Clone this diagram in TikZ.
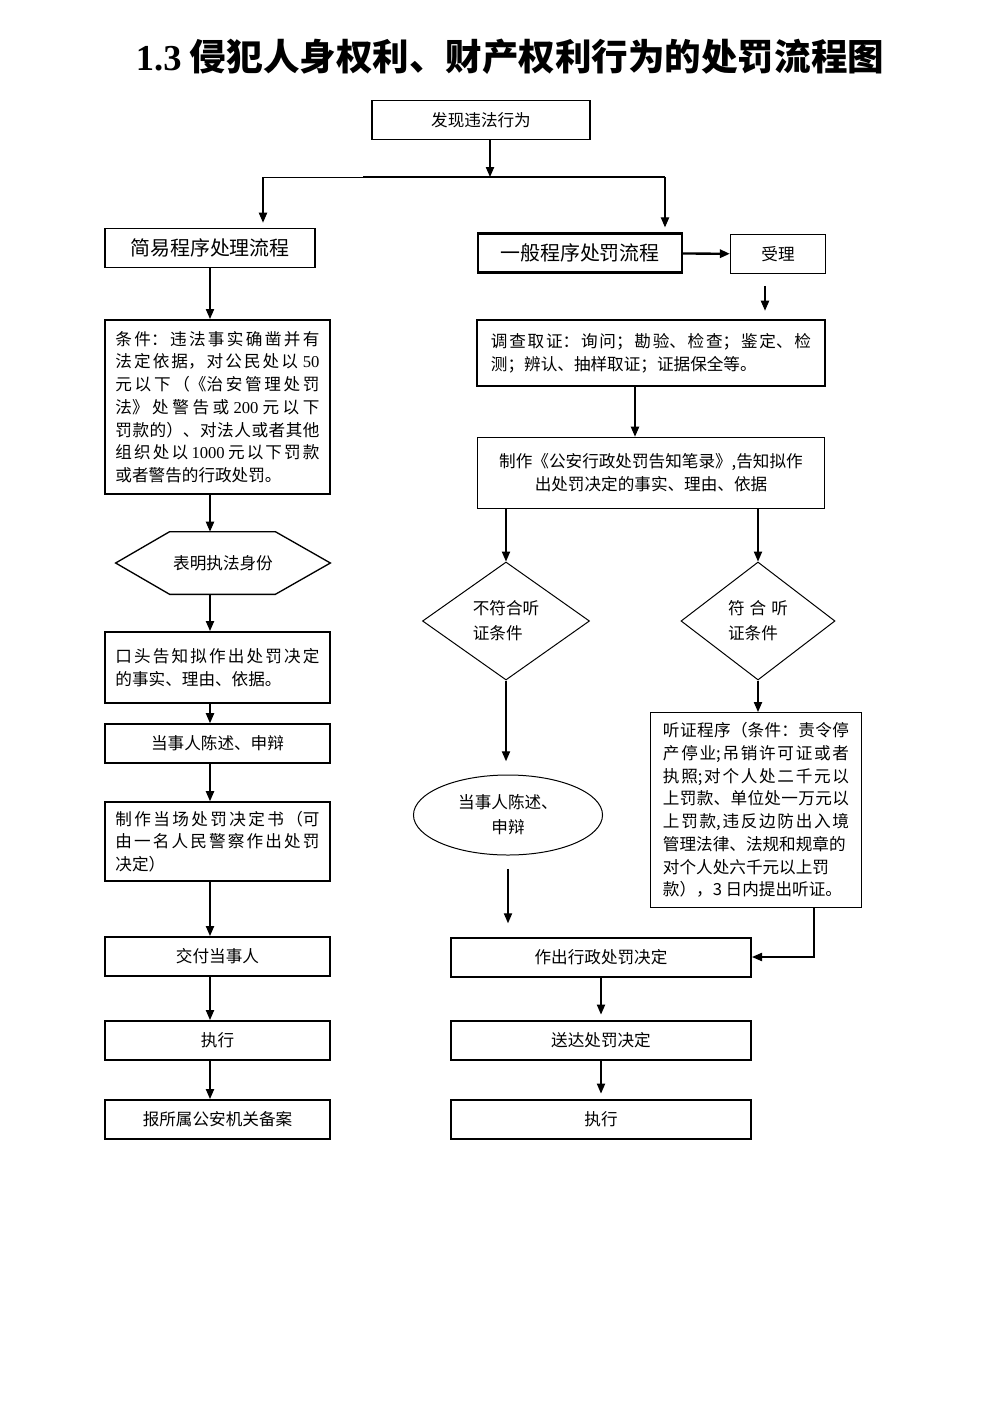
\documentclass[tikz,border=0pt]{standalone}
\usepackage{fontspec}
\setmainfont{Noto Sans CJK SC}
\newfontfamily\tnr{Liberation Serif}
\usepackage{tikz}
\usetikzlibrary{positioning, arrows.meta, shapes.geometric}
\XeTeXlinebreaklocale "zh"
\XeTeXlinebreakskip=0pt plus 4pt
\newcommand{\pxu}{0.6023pt}

\begin{document}
\begin{tikzpicture}[x=0.02117cm, y=-0.02117cm,
    box/.style 2 args={draw, line width=1pt, minimum width=#1*\pxu, minimum height=#2*\pxu, inner sep=0pt, font=\fontsize{10}{13.7}\selectfont},
    para/.style={text width=#1*\pxu, align=justify},
    arr/.style={-{Triangle[length=6pt,width=5pt]}, line width=0.7pt}]
            \useasboundingbox (0,0) rectangle (992,1403);
            \node (title) at (510,57) {\fontsize{22}{26}\selectfont\bfseries{\tnr 1.3} 侵犯人身权利、财产权利行为的处罚流程图};
            % top
            \node [box={218}{39}, line width=0.8pt] (find) at (481,120) {发现违法行为};
            \coordinate (split) at (490,177);
            \coordinate (bl) at (263,177);
            \coordinate (bm) at (363,177);
            \coordinate (br) at (665,177);
            \node [box={210}{39}, font=\fontsize{12}{14}\selectfont] (simple) at (210,248) {简易程序处理流程};
            \node [box={204}{39}, line width=1.4pt, font=\fontsize{12}{14}\selectfont] (general) at (580,253) {一般程序处罚流程};
            \node [box={95}{39}, line width=0.8pt] (accept) at (778,254) {受理};
            \draw[arr] (find.south -| split) -- (split);
            \draw[line width=0.6pt] (bl) -- (bm);
            \draw[line width=1pt] (bm) -- (br);
            \draw[arr, shorten >=3pt] (bl) -- (bl |- simple.north);
            \draw[arr, shorten >=3pt] (br) -- (br |- general.north);
            \draw[arr, line width=1.4pt] (general) -- (accept);
            % general procedure
            \node [box={347}{66}, line width=1.2pt, para=320] (invest) at (651,353) {调查取证：询问；勘验、检查；鉴定、检测；辨认、抽样取证；证据保全等。};
            \node [box={347}{71}, align=center] (notify) at (651,473) {制作《公安行政处罚告知笔录》,告知拟作\\出处罚决定的事实、理由、依据};
            \coordinate (ax) at (765,0);
            \draw[arr, shorten <=7pt, shorten >=5pt] (accept.south -| ax) -- (invest.north -| ax);
            \draw[arr] (invest.south -| 635,0) -- (notify.north -| 635,0);
            \node [draw, diamond, line width=0.6pt, minimum width=167*\pxu, minimum height=118*\pxu, inner sep=0pt, align=left, font=\fontsize{10}{15}\selectfont] (nodia) at (506,621) {不符合听\\证条件};
            \node [draw, diamond, line width=0.6pt, minimum width=154*\pxu, minimum height=118*\pxu, inner sep=0pt, align=left, font=\fontsize{10}{15}\selectfont] (yesdia) at (758,621) {符\hspace{3pt}合\hspace{3pt}听\\证条件};
            \draw[arr] (notify.south -| nodia) -- (nodia.north);
            \draw[arr] (notify.south -| yesdia) -- (yesdia.north);
            \node [draw, ellipse, line width=0.6pt, minimum width=189*\pxu, minimum height=80*\pxu, inner sep=0pt, align=center, font=\fontsize{10}{15}\selectfont] (plea) at (508,815) {当事人陈述、\\申辩};
            \node [box={210}{195}, line width=0.6pt, para=186] (hearing) at (756,810) {听证程序（条件：责令停\linebreak 产停业;吊销许可证或者\linebreak 执照;对个人处二千元以\linebreak 上罚款、单位处一万元以\linebreak 上罚款,违反边防出入境\linebreak 管理法律、法规和规章的\\ 对个人处六千元以上罚\\ 款），3 日内提出听证。};
            \draw[arr, shorten >=8pt] (nodia.south) -- (nodia.south |- plea.north);
            \draw[arr] (yesdia.south) -- (hearing.north -| yesdia);
            \node [box={300}{39}, line width=1.2pt] (decide) at (601,957) {作出行政处罚决定};
            \node [box={300}{39}, line width=1.2pt] (deliver) at (601,1040) {送达处罚决定};
            \node [box={300}{39}, line width=1.2pt] (exec2) at (601,1119) {执行};
            \draw[arr, shorten <=8pt, shorten >=8pt] (plea.south) -- (plea.south |- decide.north);
            \draw[arr] (hearing.south -| 814,0) |- (decide.east);
            \draw[arr, shorten >=3pt] (decide.south) -- (deliver.north);
            \draw[arr, shorten >=3pt] (deliver.south) -- (exec2.north);
            % simple procedure
            \coordinate (lx) at (210,0);
            \node [box={225}{174}, line width=1.2pt, para=204, font=\fontsize{10}{13.7}\selectfont] (cond) at (217.5,407) {条件：违法事实确凿并有\linebreak 法定依据，对公民处以\hspace{3pt}{\tnr 50}\linebreak 元以下（《治安管理处罚\linebreak 法》处警告或\hspace{2.5pt}{\tnr 200}\hspace{2.5pt}元以下\linebreak 罚款的）、对法人或者其他\linebreak 组织处以\hspace{2pt}{\tnr 1000}\hspace{2pt}元以下罚款\linebreak 或者警告的行政处罚。};
            \node [minimum width=214*\pxu, minimum height=62*\pxu, inner sep=0pt, font=\fontsize{10}{13.7}\selectfont] (hexa) at (223,563) {表明执法身份};
            \draw[line width=0.8pt] (hexa.west) -- ([xshift=54*\pxu]hexa.north west) -- ([xshift=-55*\pxu]hexa.north east) -- (hexa.east) -- ([xshift=-55*\pxu]hexa.south east) -- ([xshift=54*\pxu]hexa.south west) -- cycle;
            \node [box={225}{71}, line width=1.2pt, para=204] (tell) at (217.5,667.5) {口头告知拟作出处罚决定\linebreak 的事实、理由、依据。};
            \node [box={225}{39}] (state) at (217.5,743.5) {当事人陈述、申辩};
            \node [box={225}{79}, para=204] (ticket) at (217.5,841.5) {制作当场处罚决定书（可\linebreak 由一名人民警察作出处罚\linebreak 决定）};
            \node [box={225}{39}, line width=1.2pt] (hand) at (217.5,956.5) {交付当事人};
            \node [box={225}{39}, line width=1.2pt] (exec1) at (217.5,1040.5) {执行};
            \node [box={225}{39}, line width=1.2pt] (report) at (217.5,1119.5) {报所属公安机关备案};
            \draw[arr] (simple.south -| lx) -- (cond.north -| lx);
            \draw[arr] (cond.south -| lx) -- (hexa.north -| lx);
            \draw[arr] (hexa.south -| lx) -- (tell.north -| lx);
            \draw[arr] (tell.south -| lx) -- (state.north -| lx);
            \draw[arr] (state.south -| lx) -- (ticket.north -| lx);
            \draw[arr] (ticket.south -| lx) -- (hand.north -| lx);
            \draw[arr] (hand.south -| lx) -- (exec1.north -| lx);
            \draw[arr] (exec1.south -| lx) -- (report.north -| lx);
        \end{tikzpicture}
\end{document}
